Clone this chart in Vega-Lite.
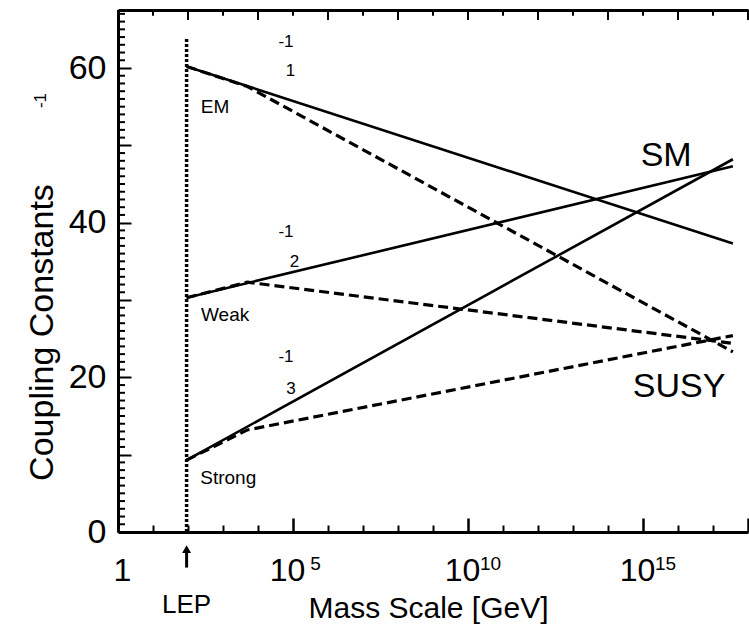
{
  "$schema": "https://vega.github.io/schema/vega-lite/v6.json",
  "width": 630,
  "height": 522,
  "autosize": {"type": "none"},
  "padding": {"left": 118, "top": 10, "right": 1, "bottom": 92},
  "background": "white",
  "config": {
    "view": {"stroke": null},
    "font": "Liberation Sans",
    "axis": {
      "grid": false,
      "domainColor": "black",
      "labelColor": "black",
      "titleColor": "black",
      "labelFont": "Liberation Sans",
      "titleFont": "Liberation Sans",
      "titleFontWeight": "normal",
      "domainWidth": 3
    }
  },
  "datasets": {
    "lines": [
      {"model": "SM", "series": "EM", "o": 0, "x": 91.2, "y": 60.2},
      {"model": "SM", "series": "EM", "o": 1, "x": 3.7e17, "y": 37.3},
      {"model": "SM", "series": "Weak", "o": 0, "x": 91.2, "y": 30.3},
      {"model": "SM", "series": "Weak", "o": 1, "x": 3.7e17, "y": 47.3},
      {"model": "SM", "series": "Strong", "o": 0, "x": 91.2, "y": 9.3},
      {"model": "SM", "series": "Strong", "o": 1, "x": 3.7e17, "y": 48.2},
      {"model": "SUSY", "series": "EM", "o": 0, "x": 91.2, "y": 60.2},
      {"model": "SUSY", "series": "EM", "o": 1, "x": 5000, "y": 57.6},
      {"model": "SUSY", "series": "EM", "o": 2, "x": 3.7e17, "y": 23.3},
      {"model": "SUSY", "series": "Weak", "o": 0, "x": 91.2, "y": 30.3},
      {"model": "SUSY", "series": "Weak", "o": 1, "x": 5000, "y": 32.3},
      {"model": "SUSY", "series": "Weak", "o": 2, "x": 3.7e17, "y": 24.4},
      {"model": "SUSY", "series": "Strong", "o": 0, "x": 91.2, "y": 9.3},
      {"model": "SUSY", "series": "Strong", "o": 1, "x": 5000, "y": 13.2},
      {"model": "SUSY", "series": "Strong", "o": 2, "x": 3.7e17, "y": 25.4}
    ],
    "lep": [{"x": 91.2, "y": 0, "y2": 64}],
    "arrow": [{"x": 91.2, "y": -2.2, "y2": -4.6}],
    "lepText": [{"x": 91.2, "y": -9.5, "text": "LEP"}],
    "small": [
      {"x": 63000, "y": 63.3, "text": "-1"},
      {"x": 85000, "y": 59.6, "text": "1"},
      {"x": 63000, "y": 38.8, "text": "-1"},
      {"x": 110000, "y": 34.9, "text": "2"},
      {"x": 63000, "y": 22.6, "text": "-1"},
      {"x": 87000, "y": 18.5, "text": "3"}
    ],
    "names": [
      {"x": 589, "y": 55.0, "text": "EM"},
      {"x": 1148, "y": 28.0, "text": "Weak"},
      {"x": 1413, "y": 7.0, "text": "Strong"}
    ],
    "models": [
      {"x": 4.6e15, "y": 48.6, "text": "SM"},
      {"x": 1.07e16, "y": 18.8, "text": "SUSY"}
    ],
    "topMajor": [
      {"x": 1}, {"x": 100}, {"x": 10000}, {"x": 1000000}, {"x": 100000000},
      {"x": 10000000000}, {"x": 1000000000000}, {"x": 100000000000000},
      {"x": 10000000000000000}, {"x": 1000000000000000000}
    ],
    "topMinor": [
      {"x": 10}, {"x": 1000}, {"x": 100000}, {"x": 10000000}, {"x": 1000000000},
      {"x": 100000000000}, {"x": 10000000000000}, {"x": 1000000000000000},
      {"x": 100000000000000000}
    ],
    "yMinor": [
      {"y": 1}, {"y": 2}, {"y": 3}, {"y": 4}, {"y": 5}, {"y": 6}, {"y": 7}, {"y": 8}, {"y": 9},
      {"y": 11}, {"y": 12}, {"y": 13}, {"y": 14}, {"y": 15}, {"y": 16}, {"y": 17}, {"y": 18}, {"y": 19},
      {"y": 21}, {"y": 22}, {"y": 23}, {"y": 24}, {"y": 25}, {"y": 26}, {"y": 27}, {"y": 28}, {"y": 29},
      {"y": 31}, {"y": 32}, {"y": 33}, {"y": 34}, {"y": 35}, {"y": 36}, {"y": 37}, {"y": 38}, {"y": 39},
      {"y": 41}, {"y": 42}, {"y": 43}, {"y": 44}, {"y": 45}, {"y": 46}, {"y": 47}, {"y": 48}, {"y": 49},
      {"y": 51}, {"y": 52}, {"y": 53}, {"y": 54}, {"y": 55}, {"y": 56}, {"y": 57}, {"y": 58}, {"y": 59},
      {"y": 61}, {"y": 62}, {"y": 63}, {"y": 64}, {"y": 65}, {"y": 66}, {"y": 67}
    ]
  },
  "resolve": {"axis": {"x": "independent", "y": "independent"}},
  "layer": [
    {
      "data": {"name": "lines"},
      "transform": [{"filter": "datum.model == 'SM'"}],
      "mark": {"type": "line", "color": "black", "strokeWidth": 2.6},
      "encoding": {
        "x": {
          "field": "x", "type": "quantitative",
          "scale": {"type": "log", "domain": [1, 1e18], "nice": false},
          "axis": {
            "orient": "bottom", "values": [100000, 10000000000, 1000000000000000],
            "labelExpr": "'10'", "labelFlush": false, "labelOverlap": false,
            "ticks": false, "domain": true,
            "labelFontSize": 32, "labelBaseline": "alphabetic", "labelPadding": 48, "labelAlign": "center",
            "labelOffset": -6,
            "title": "Mass Scale [GeV]", "titleFontSize": 30, "titleBaseline": "alphabetic",
            "titleY": 85, "titleX": 310, "titleAnchor": "middle", "titleAlign": "center"
          }
        },
        "y": {
          "field": "y", "type": "quantitative",
          "scale": {"domain": [0, 67.5], "nice": false, "zero": false},
          "axis": {
            "orient": "left", "values": [0, 20, 40, 60], "ticks": false, "domain": true,
            "labelFlush": false, "labelOverlap": false,
            "labelFontSize": 34, "labelPadding": 12, "labelBaseline": "middle",
            "title": "Coupling Constants", "titleFontSize": 34, "titleAngle": -90,
            "titleBaseline": "middle", "titleAlign": "center", "titleX": -76, "titleY": 322
          }
        },
        "detail": {"field": "series"},
        "order": {"field": "o"}
      }
    },
    {
      "data": {"name": "lines"},
      "transform": [{"filter": "datum.model == 'SUSY'"}],
      "mark": {"type": "line", "color": "black", "strokeWidth": 3.2, "strokeDash": [10, 5]},
      "encoding": {
        "x": {"field": "x", "type": "quantitative", "axis": null},
        "y": {"field": "y", "type": "quantitative", "axis": null},
        "detail": {"field": "series"},
        "order": {"field": "o"}
      }
    },
    {
      "data": {"name": "lep"},
      "mark": {"type": "rule", "color": "black", "strokeWidth": 3.5, "strokeDash": [3, 2]},
      "encoding": {
        "x": {
          "field": "x", "type": "quantitative",
          "axis": {
            "orient": "bottom",
            "values": [10, 100, 1000, 10000, 1000000, 10000000, 100000000, 1000000000, 100000000000, 1000000000000, 10000000000000, 100000000000000, 10000000000000000, 100000000000000000],
            "tickCount": 100,
            "tickSize": -7, "tickColor": "black", "tickWidth": 2,
            "labels": false, "domain": false, "title": null
          }
        },
        "y": {
          "field": "y", "type": "quantitative",
          "axis": {
            "orient": "left", "values": [10, 20, 30, 40, 50, 60],
            "tickCount": 100,
            "tickSize": 13, "offset": -13, "tickColor": "black", "tickWidth": 2,
            "labels": false, "domain": false, "title": null
          }
        },
        "y2": {"field": "y2"}
      }
    },
    {
      "data": {"name": "arrow"},
      "mark": {"type": "rule", "color": "black", "strokeWidth": 3},
      "encoding": {
        "x": {"field": "x", "type": "quantitative", "axis": null},
        "y": {"field": "y", "type": "quantitative", "axis": null},
        "y2": {"field": "y2"}
      }
    },
    {
      "data": {"name": "arrow"},
      "mark": {"type": "point", "shape": "triangle-up", "filled": true, "color": "black", "size": 80, "opacity": 1},
      "encoding": {
        "x": {"field": "x", "type": "quantitative", "axis": null},
        "y": {"field": "y", "type": "quantitative", "axis": null}
      }
    },
    {
      "data": {"name": "lepText"},
      "mark": {"type": "text", "fontSize": 26, "align": "center", "baseline": "middle", "color": "black"},
      "encoding": {
        "x": {
          "field": "x", "type": "quantitative",
          "axis": {
            "orient": "bottom", "values": [1, 100000, 10000000000, 1000000000000000, 1000000000000000000],
            "tickCount": 100,
            "tickSize": -14, "tickColor": "black", "tickWidth": 2.5,
            "labels": false, "domain": false, "title": null
          }
        },
        "y": {"field": "y", "type": "quantitative", "axis": null},
        "text": {"field": "text"}
      }
    },
    {
      "data": {"name": "small"},
      "mark": {"type": "text", "fontSize": 17, "align": "center", "baseline": "middle", "color": "black"},
      "encoding": {
        "x": {
          "field": "x", "type": "quantitative",
          "axis": {
            "orient": "bottom", "values": [1],
            "labelExpr": "'1'", "labelFlush": false, "labelOverlap": false,
            "ticks": false, "domain": false,
            "labelFontSize": 32, "labelBaseline": "alphabetic", "labelPadding": 48, "labelAlign": "center",
            "labelOffset": 4,
            "title": null
          }
        },
        "y": {"field": "y", "type": "quantitative", "axis": null},
        "text": {"field": "text"}
      }
    },
    {
      "data": {"name": "names"},
      "mark": {"type": "text", "fontSize": 19, "align": "center", "baseline": "middle", "color": "black"},
      "encoding": {
        "x": {
          "field": "x", "type": "quantitative",
          "axis": {
            "orient": "bottom", "values": [100000, 10000000000, 1000000000000000],
            "labelExpr": "datum.value < 1e7 ? '5' : (datum.value < 1e12 ? '10' : '15')", "labelFlush": false, "labelOverlap": false,
            "ticks": false, "domain": false,
            "labelFontSize": 19, "labelBaseline": "alphabetic", "labelPadding": 37, "labelAlign": "center",
            "labelOffset": 22,
            "title": null
          }
        },
        "y": {"field": "y", "type": "quantitative", "axis": null},
        "text": {"field": "text"}
      }
    },
    {
      "data": {"name": "models"},
      "mark": {"type": "text", "fontSize": 34, "align": "center", "baseline": "middle", "color": "black"},
      "encoding": {
        "x": {
          "field": "x", "type": "quantitative",
          "axis": {
            "orient": "top", "ticks": false, "labels": false, "domain": true, "title": null
          }
        },
        "y": {
          "field": "y", "type": "quantitative",
          "axis": {
            "orient": "left", "ticks": false, "labels": false, "domain": false,
            "title": "-1", "titleFontSize": 17, "titleAngle": -90, "titleBaseline": "middle",
            "titleAlign": "center", "titleX": -78, "titleY": 90
          }
        },
        "text": {"field": "text"}
      }
    },
    {
      "data": {"name": "topMajor"},
      "mark": {"type": "rule", "color": "black", "strokeWidth": 2},
      "encoding": {
        "x": {"field": "x", "type": "quantitative", "axis": null},
        "y": {"datum": 67.5, "type": "quantitative", "axis": null},
        "y2": {"datum": 66.2}
      }
    },
    {
      "data": {"name": "topMinor"},
      "mark": {"type": "rule", "color": "black", "strokeWidth": 2},
      "encoding": {
        "x": {"field": "x", "type": "quantitative", "axis": null},
        "y": {"datum": 67.5, "type": "quantitative", "axis": null},
        "y2": {"datum": 66.75}
      }
    },
    {
      "data": {"name": "yMinor"},
      "mark": {"type": "rule", "color": "black", "strokeWidth": 2},
      "encoding": {
        "y": {"field": "y", "type": "quantitative", "axis": null},
        "x": {"datum": 1, "type": "quantitative", "axis": null},
        "x2": {"datum": 1.585}
      }
    }
  ]
}
